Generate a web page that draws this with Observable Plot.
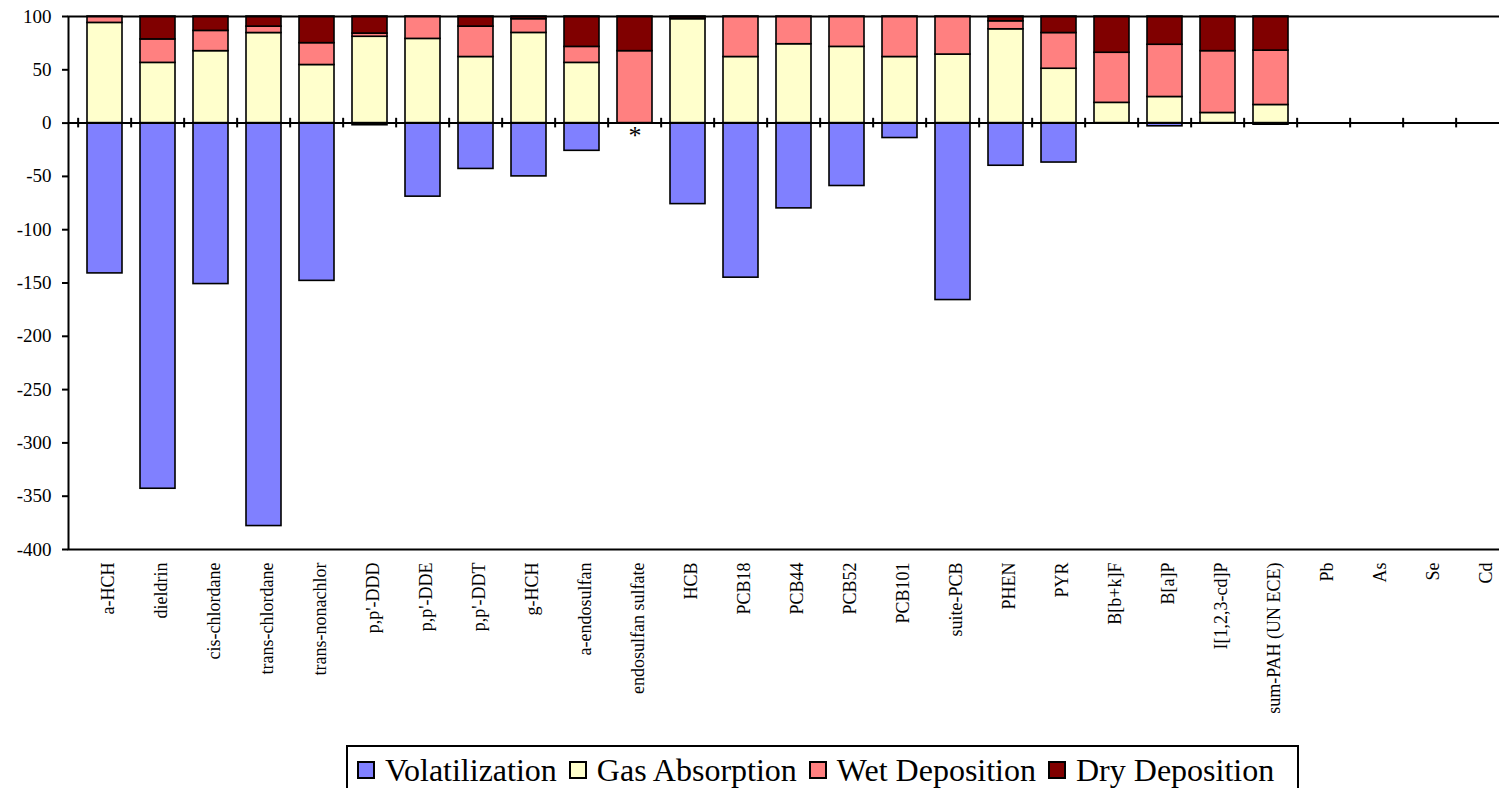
<!DOCTYPE html>
<html>
<head>
<meta charset="utf-8">
<script src="https://cdn.jsdelivr.net/npm/d3@7"></script>
<script src="https://cdn.jsdelivr.net/npm/@observablehq/plot@0.6"></script>
<style>
  html, body { margin: 0; padding: 0; background: #fff; overflow: hidden; }
  #chart svg { max-width: none; display: block; }
  #legend {
    position: absolute; left: 346px; top: 745px; width: 953px; height: 60px;
    border: 2px solid #000; box-sizing: border-box; background: #fff;
    display: flex; align-items: center; padding: 0 0 10px 9px;
    font-family: "Times New Roman", "Liberation Serif", Times, serif; font-size: 32px; line-height: 36px; color: #000;
  }
  #legend .item { display: flex; align-items: center; margin-right: 12px; white-space: nowrap; }
  #legend .sw { width: 14px; height: 14px; border: 2px solid #000; margin-right: 10px; }
</style>
</head>
<body>
<div id="chart"></div>
<div id="legend"></div>
<script>
const categories = ["a-HCH","dieldrin","cis-chlordane","trans-chlordane","trans-nonachlor","p,p'-DDD","p,p'-DDE","p,p'-DDT","g-HCH","a-endosulfan","endosulfan sulfate","HCB","PCB18","PCB44","PCB52","PCB101","suite-PCB","PHEN","PYR","B[b+k]F","B[a]P","I[1,2,3-cd]P","sum-PAH (UN ECE)","Pb","As","Se","Cd"];
const seriesNames = ["Volatilization","Gas Absorption","Wet Deposition","Dry Deposition"];
const seriesColors = ["#8080ff","#ffffcc","#ff8080","#800000"];
const volatilization = [-141,-343,-151,-378,-148,-2,-69,-43,-50,-26,0,-76,-145,-80,-59,-14,-166,-40,-37,0,-3,0,-1.5,0,0,0,0];
const gasAbsorption  = [94,56.5,67.5,84.5,54.5,81,79,62,84.6,56.5,0,97.5,62,74,71.5,62,64.3,88,51,19,24.5,9.5,17,0,0,0,0];
const wetDeposition  = [6,22,19,6,20.5,3,21,28.5,12.9,15,67.5,0.5,38,26,28.5,38,35.7,7.5,33.5,47,49,58,51,0,0,0,0];
const dryDeposition  = [0,21.5,13.5,9.5,25,16,0,9.5,2.5,28.5,32.5,2,0,0,0,0,0,4.5,15.5,34,26.5,32.5,32,0,0,0,0];
const yTicks = [-400,-350,-300,-250,-200,-150,-100,-50,0,50,100];
const asteriskCategories = ["endosulfan sulfate"];

const seriesValues = [volatilization, gasAbsorption, wetDeposition, dryDeposition];
const rows = [];
seriesNames.forEach((s, i) => {
  categories.forEach((c, j) => {
    const v = seriesValues[i][j];
    if (v !== 0) rows.push({category: c, series: s, value: v});
  });
});

const W = 1518, mL = 68, mT = 16, H = 745, mB = 196;
const step = (W - mL) / categories.length;
const font = "'Times New Roman', 'Liberation Serif', Times, serif";

const chart = Plot.plot({
  width: W, height: H,
  marginLeft: mL, marginRight: 0, marginTop: mT, marginBottom: mB,
  style: {fontFamily: font, background: "#fff", color: "#000"},
  x: {domain: categories, padding: 0, label: null},
  y: {domain: [-400, 100], label: null},
  color: {domain: seriesNames, range: seriesColors},
  marks: [
    Plot.barY(rows, Plot.stackY({
      x: "category", y: "value", fill: "series", order: seriesNames,
      stroke: "#000", strokeWidth: 1.6, insetLeft: 9, insetRight: 9
    })),
    Plot.ruleY([0], {stroke: "#000", strokeWidth: 2}),
    Plot.ruleX(categories, {x: d => d, y1: -4.5, y2: 4.5, dx: -step / 2, stroke: "#000", strokeWidth: 2}),
    Plot.frame({stroke: "#000", strokeWidth: 2}),
    Plot.axisY({ticks: yTicks, tickFormat: d => String(d), tickSize: 6, tickPadding: 11, fontSize: 19, strokeWidth: 2, fontFamily: font}),
    Plot.axisX({tickRotate: -90, tickSize: 0, tickPadding: 13, fontSize: 18, dx: 3, fontFamily: font}),
    Plot.text(asteriskCategories, {x: d => d, y: -12, text: () => "*", fontSize: 26, fill: "#000", fontFamily: font})
  ]
});
document.getElementById("chart").appendChild(chart);

const legend = document.getElementById("legend");
seriesNames.forEach((s, i) => {
  const it = document.createElement("div");
  it.className = "item";
  const sw = document.createElement("span");
  sw.className = "sw";
  sw.style.background = seriesColors[i];
  const t = document.createElement("span");
  t.textContent = s;
  t.style.fontFamily = font;
  it.appendChild(sw); it.appendChild(t);
  legend.appendChild(it);
});
</script>
</body>
</html>
